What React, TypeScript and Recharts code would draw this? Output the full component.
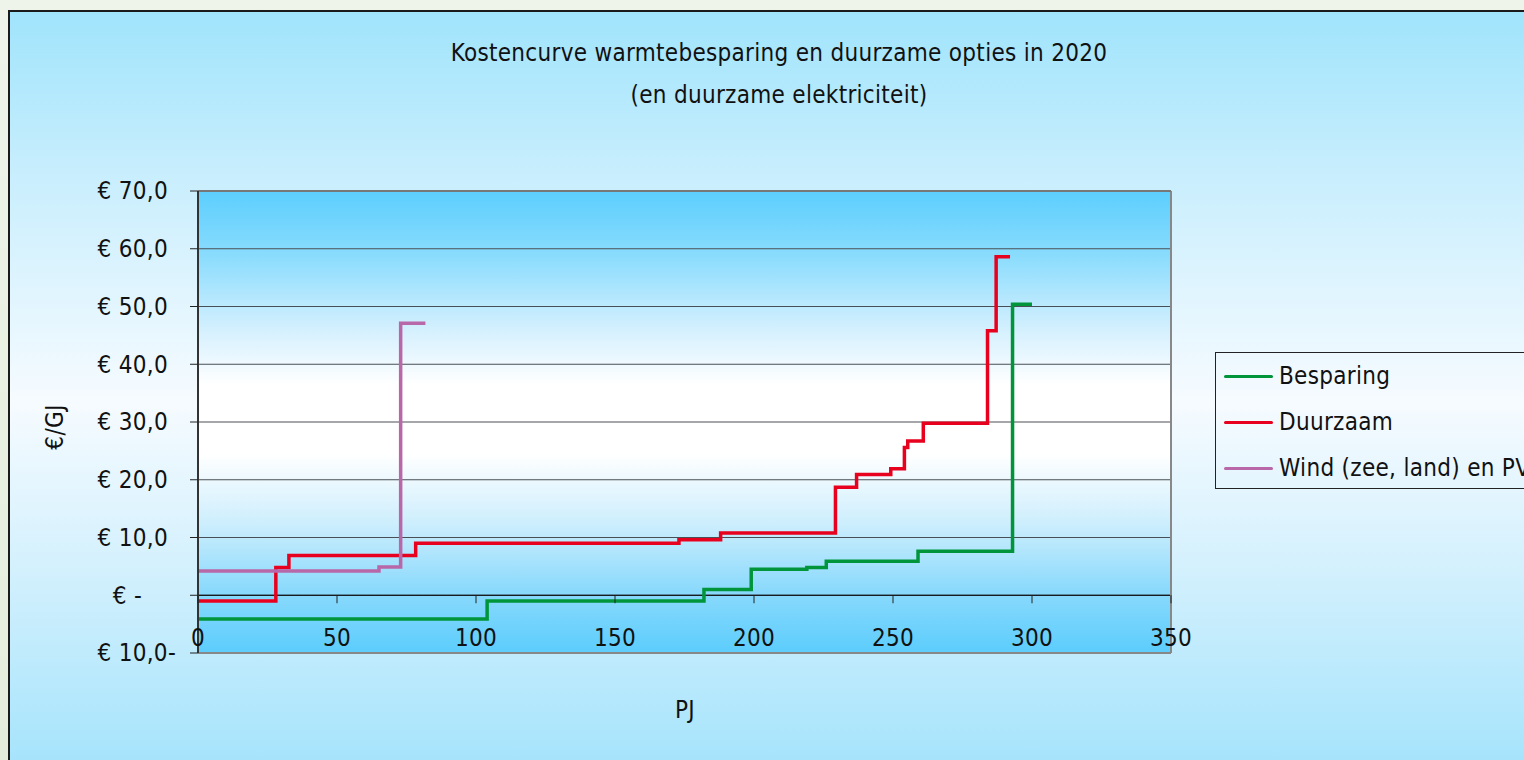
import { LineChart, Line, XAxis, YAxis, CartesianGrid, ReferenceLine, Legend } from 'recharts'

const besparingPJ = [0, 104, 182, 199, 219, 226, 259, 293, 300]
const besparingCost = [-4.1, -1.0, 1.0, 4.5, 4.8, 5.9, 7.6, 50.4, 50.4]

const duurzaamPJ = [0, 28, 32.7, 78.3, 173, 188, 229.3, 236.9, 249.2, 254.1, 255.3, 260.9, 284, 287.1, 292.1]
const duurzaamCost = [-1.0, 4.8, 6.9, 9.0, 9.6, 10.8, 18.7, 20.9, 21.9, 25.6, 26.7, 29.8, 45.8, 58.6, 58.6]

const windPJ = [0, 65.1, 72.9, 81.8]
const windCost = [4.2, 4.9, 47.1, 47.1]

const xTicks = [0, 50, 100, 150, 200, 250, 300, 350]
const yTicks = [-10, 0, 10, 20, 30, 40, 50, 60, 70]

const toPoints = (pj: number[], cost: number[]) => pj.map((p, i) => ({ pj: p, cost: cost[i] }))

const FONT = "'Liberation Sans Narrow', 'DejaVu Sans Condensed', 'Liberation Sans', sans-serif"
const FS = 24
const LS = 0.3

const CHART_W = 1560
const CHART_H = 748
const PLOT = { left: 188, top: 179, width: 973, height: 462 }
const Y_MIN = -10
const Y_MAX = 70
const zeroY = PLOT.top + (PLOT.height * Y_MAX) / (Y_MAX - Y_MIN)

const fmtCost = (v: number) => {
  if (v === 0) return '€ -'
  const s = Math.abs(v).toFixed(1).replace('.', ',')
  return v < 0 ? `€ ${s}-` : `€ ${s}`
}

const YTick = (props: any) => {
  const { x, y, payload } = props
  const v = payload.value
  const dx = v === 0 ? -26 : v < 0 ? 8 : 0
  return (
    <text x={x + dx} y={y} dy="0.35em" textAnchor="end" fontSize={FS} fontFamily={FONT} letterSpacing={LS} fill="#111">
      {fmtCost(v)}
    </text>
  )
}

const XTick = (props: any) => {
  const { x, payload } = props
  return (
    <g>
      <line x1={x} x2={x} y1={zeroY} y2={zeroY + 8} stroke="#222" strokeWidth={1} />
      <text x={x} y={PLOT.top + PLOT.height - 15} dy="0.35em" textAnchor="middle" fontSize={FS} fontFamily={FONT} letterSpacing={LS} fill="#111">
        {payload.value}
      </text>
    </g>
  )
}

const LegendBox = (props: any) => {
  const items = props.payload || []
  return (
    <div style={{ border: '1px solid #222', width: 330, height: 137, boxSizing: 'border-box', paddingTop: 0 }}>
      {items.map((it: any) => (
        <div key={it.value} style={{ display: 'flex', alignItems: 'center', height: 46 }}>
          <div style={{ width: 49, height: 3, background: it.color, marginLeft: 8, marginRight: 6, borderRadius: 2 }} />
          <span style={{ fontFamily: FONT, fontSize: FS, letterSpacing: LS, color: '#111', whiteSpace: 'nowrap' }}>{it.value}</span>
        </div>
      ))}
    </div>
  )
}

export default function App() {
  return (
    <div>
      <div style={{ position: 'fixed', inset: 0, background: 'linear-gradient(to bottom, #eef4ea, #e4eddc)' }} />
      <div
        style={{
          position: 'absolute',
          left: 8,
          top: 10,
          width: 1514,
          height: 750,
          overflow: 'hidden',
          borderLeft: '2px solid #1a1a1a',
          borderTop: '2px solid #1a1a1a',
          background: 'linear-gradient(to bottom, #a0e4fc 0%, #c9eefd 22%, #f6fbff 52%, #d2f0fd 75%, #a6e4fc 100%)',
        }}
      >
        <div
          style={{
            position: 'absolute',
            left: PLOT.left,
            top: PLOT.top,
            width: PLOT.width,
            height: PLOT.height,
            background:
              'linear-gradient(to bottom, #5ccefd 0%, #8adcfd 14%, #d4f0fe 30%, #ffffff 42%, #ffffff 57%, #cdeefd 72%, #8cdafc 86%, #5ccdfc 100%)',
          }}
        />
        <div style={{ position: 'absolute', left: 0, top: 26, width: 1538, textAlign: 'center', fontFamily: FONT, fontSize: FS, letterSpacing: LS, lineHeight: '30px', color: '#111' }}>
          Kostencurve warmtebesparing en duurzame opties in 2020
        </div>
        <div style={{ position: 'absolute', left: 0, top: 68, width: 1538, textAlign: 'center', fontFamily: FONT, fontSize: FS, letterSpacing: LS, lineHeight: '30px', color: '#111' }}>
          (en duurzame elektriciteit)
        </div>
        <div style={{ position: 'absolute', left: 45 - 50, top: 415 - 15, width: 100, textAlign: 'center', transform: 'rotate(-90deg)', fontFamily: FONT, fontSize: FS, letterSpacing: LS, lineHeight: '30px', color: '#111' }}>
          €/GJ
        </div>
        <div style={{ position: 'absolute', left: 675 - 50, top: 698 - 15, width: 100, textAlign: 'center', fontFamily: FONT, fontSize: FS, letterSpacing: LS, lineHeight: '30px', color: '#111' }}>
          PJ
        </div>
        <div style={{ position: 'absolute', left: 0, top: 0 }}>
          <LineChart width={CHART_W} height={CHART_H} margin={{ top: PLOT.top, left: 0, right: CHART_W - PLOT.left - PLOT.width, bottom: CHART_H - PLOT.top - PLOT.height - 40 }}>
            <CartesianGrid horizontal vertical={false} stroke="#4a4f55" strokeWidth={1} />
            <XAxis
              dataKey="pj"
              type="number"
              domain={[0, 350]}
              ticks={xTicks}
              height={40}
              axisLine={false}
              tickLine={false}
              tick={<XTick />}
              allowDataOverflow
            />
            <YAxis
              type="number"
              domain={[Y_MIN, Y_MAX]}
              ticks={yTicks}
              width={PLOT.left}
              tickSize={8}
              tickMargin={22}
              axisLine={{ stroke: '#333', strokeWidth: 2 }}
              tickLine={{ stroke: '#222' }}
              tick={<YTick />}
            />
            <ReferenceLine y={0} stroke="#000" strokeWidth={1} />
            <ReferenceLine x={350} stroke="#888" strokeWidth={2} />
            <ReferenceLine y={Y_MAX} stroke="#777" strokeWidth={2} />
            <ReferenceLine y={Y_MIN} stroke="#888" strokeWidth={2} />
            <Legend
              layout="vertical"
              align="center"
              verticalAlign="middle"
              wrapperStyle={{ position: 'absolute', left: 1205, top: 340, width: 330 }}
              content={<LegendBox />}
            />
            <Line name="Besparing" data={toPoints(besparingPJ, besparingCost)} dataKey="cost" type="stepAfter" stroke="#00953b" strokeWidth={3.5} dot={false} isAnimationActive={false} />
            <Line name="Duurzaam" data={toPoints(duurzaamPJ, duurzaamCost)} dataKey="cost" type="stepAfter" stroke="#e8001f" strokeWidth={3.5} dot={false} isAnimationActive={false} />
            <Line name="Wind (zee, land) en PV" data={toPoints(windPJ, windCost)} dataKey="cost" type="stepAfter" stroke="#b868a8" strokeWidth={3.5} dot={false} isAnimationActive={false} />
          </LineChart>
        </div>
      </div>
    </div>
  )
}
